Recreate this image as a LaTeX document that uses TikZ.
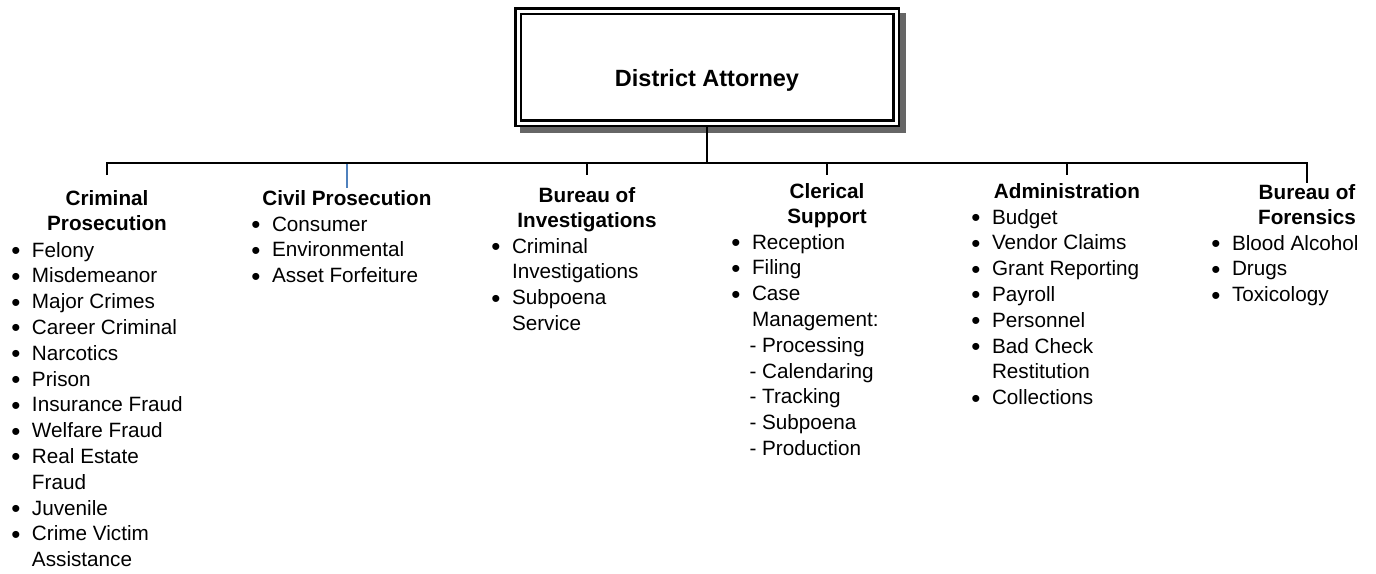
\documentclass[tikz,border=0pt]{standalone}
\usepackage{fontspec}
\setmainfont{Liberation Sans}
\usetikzlibrary{backgrounds}
\definecolor{linkblue}{HTML}{4F81BD}
% one bullet, centred in the indent
\newcommand\dotmark{\makebox[32pt]{\raisebox{-2.5pt}{\scalebox{1.25}{\textbullet}}}}
% wrapped line of an item
\newcommand\wrapline{\hspace*{32pt}}
% sub entry with a dash
\newcommand\dashline[1]{\hspace*{29.5pt}- #1}

\begin{document}
\begin{tikzpicture}[x=1pt,y=-1pt,
  every node/.style={inner sep=0pt,outer sep=0pt},
  head/.style={font=\fontsize{20.7}{25.8}\selectfont\bfseries,anchor=base},
  duties/.style={font=\fontsize{20.7}{25.8}\selectfont,anchor=base west},
  chief/.style={draw,line width=2.5pt,double=white,double distance=3pt,
    fill=white,minimum width=378pt,minimum height=112pt,outer sep=4pt,
    font=\fontsize{23.5}{28}\selectfont\bfseries,text height=40pt,text depth=2pt},
  link/.style={line width=2pt},
  civil/.style={draw=linkblue,line width=1.5pt}]

\useasboundingbox (0,0) rectangle (1376,573);

% the office at the top
\node[chief] (da) at (707,67) {District Attorney};
\begin{scope}[on background layer]
  \fill[black!60] ([shift={(6,6)}]da.north west) rectangle ([shift={(6,6)}]da.south east);
\end{scope}
\coordinate (bus) at (707,163);

% units
\node[head] (crim) at (107,205) {\begin{tabular}[t]{@{}c@{}}Criminal\\Prosecution\end{tabular}};
\node[head] (civ) at (347,205) {Civil Prosecution};
\node[head] (inv) at (587,202) {\begin{tabular}[t]{@{}c@{}}Bureau of\\Investigations\end{tabular}};
\node[head] (cler) at (827,198) {\begin{tabular}[t]{@{}c@{}}Clerical\\Support\end{tabular}};
\node[head] (adm) at (1067,198) {Administration};
\node[head] (for) at (1307,199) {\begin{tabular}[t]{@{}c@{}}Bureau of\\Forensics\end{tabular}};

% what each unit does
\node[duties] (crimlist) at (0,257) {\begin{tabular}[t]{@{}l@{}}
  \dotmark Felony\\ \dotmark Misdemeanor\\ \dotmark Major Crimes\\
  \dotmark Career Criminal\\ \dotmark Narcotics\\ \dotmark Prison\\
  \dotmark Insurance Fraud\\ \dotmark Welfare Fraud\\
  \dotmark Real Estate\\ \wrapline Fraud\\ \dotmark Juvenile\\
  \dotmark Crime Victim\\ \wrapline Assistance\end{tabular}};
\node[duties] (civlist) at (240,231) {\begin{tabular}[t]{@{}l@{}}
  \dotmark Consumer\\ \dotmark Environmental\\ \dotmark Asset Forfeiture\end{tabular}};
\node[duties] (invlist) at (480,253) {\begin{tabular}[t]{@{}l@{}}
  \dotmark Criminal\\ \wrapline Investigations\\
  \dotmark Subpoena\\ \wrapline Service\end{tabular}};
\node[duties] (clerlist) at (720,249) {\begin{tabular}[t]{@{}l@{}}
  \dotmark Reception\\ \dotmark Filing\\ \dotmark Case\\ \wrapline Management:\\
  \dashline{Processing}\\ \dashline{Calendaring}\\ \dashline{Tracking}\\
  \dashline{Subpoena}\\ \dashline{Production}\end{tabular}};
\node[duties] (admlist) at (960,224) {\begin{tabular}[t]{@{}l@{}}
  \dotmark Budget\\ \dotmark Vendor Claims\\ \dotmark Grant Reporting\\
  \dotmark Payroll\\ \dotmark Personnel\\ \dotmark Bad Check\\
  \wrapline Restitution\\ \dotmark Collections\end{tabular}};
\node[duties] (forlist) at (1200,250) {\begin{tabular}[t]{@{}l@{}}
  \dotmark Blood Alcohol\\ \dotmark Drugs\\ \dotmark Toxicology\end{tabular}};

% connectors
\draw[link] (da.south) -- (bus);
\draw[link] (crim |- bus) ++(0,12) -- (crim |- bus) -- (for |- bus) -- ++(0,20);
\foreach \u in {inv,cler,adm}
  \draw[link] (\u |- bus) -- ++(0,12);
\draw[civil] (civ |- bus) ++(0,1) -- ++(0,24);
\end{tikzpicture}
\end{document}
